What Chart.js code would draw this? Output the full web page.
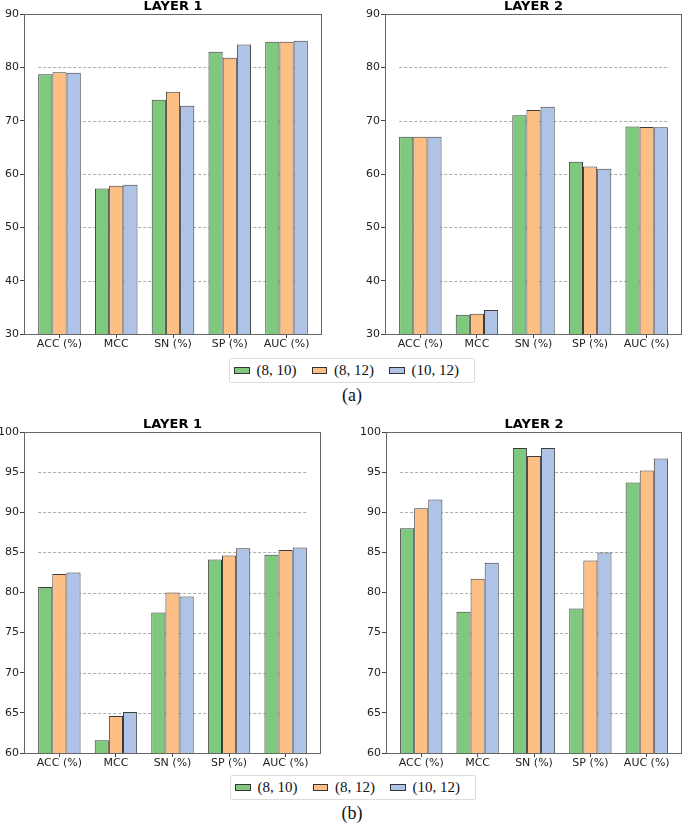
<!DOCTYPE html>
<html lang="en">
<head>
<meta charset="utf-8">
<title>Layer 1 / Layer 2 metrics</title>
<script src="https://cdn.jsdelivr.net/npm/chart.js@4.4.1/dist/chart.umd.min.js"></script>
<style>
  body { margin: 0; padding: 0; background: #fff; }
  #page { position: relative; width: 685px; height: 826px; overflow: hidden; }
  canvas { position: absolute; }
  .legend {
    position: absolute; display: flex; align-items: center; box-sizing: border-box;
    border: 1px solid #dcdcdc; border-radius: 2px; background: #fff;
    font-family: 'Liberation Serif', 'Times New Roman', serif; font-size: 15px; color: #111;
    padding-left: 4px; white-space: nowrap;
  }
  .legend .sw { display: inline-block; width: 21px; height: 7px; box-sizing: border-box; border: 1.5px solid #333; margin-right: 7px; }
  .legend .lb { margin-right: 15px; }
  .cap {
    position: absolute; width: 100px; text-align: center;
    font-family: 'Liberation Serif', 'Times New Roman', serif; font-size: 18px; color: #111;
  }
</style>
</head>
<body>
<div id="page">
  <canvas id="a1" width="340" height="352" style="left:0;top:0"></canvas>
  <canvas id="a2" width="345" height="352" style="left:340px;top:0"></canvas>
  <div class="legend" id="legA" style="left:229px;top:358px;width:246px;height:25px"></div>
  <div class="cap" style="left:302px;top:385px">(a)</div>

  <canvas id="b1" width="340" height="362" style="left:0;top:410px"></canvas>
  <canvas id="b2" width="345" height="362" style="left:340px;top:410px"></canvas>
  <div class="legend" id="legB" style="left:230px;top:775px;width:246px;height:25px"></div>
  <div class="cap" style="left:302px;top:803px">(b)</div>
</div>
<script>
  // categories and series
  const metrics = ['ACC (%)', 'MCC', 'SN (%)', 'SP (%)', 'AUC (%)'];
  const pairs = ['(8, 10)', '(8, 12)', '(10, 12)'];

  // (a) layer 1
  const a1_8_10  = [78.7, 57.3, 73.9, 82.9, 84.8];
  const a1_8_12  = [79.1, 57.8, 75.4, 81.8, 84.8];
  const a1_10_12 = [79.0, 58.0, 72.8, 84.3, 85.0];
  // (a) layer 2
  const a2_8_10  = [67.0, 33.6, 71.0, 62.3, 68.9];
  const a2_8_12  = [67.0, 33.8, 72.0, 61.4, 68.8];
  const a2_10_12 = [67.0, 34.5, 72.6, 61.0, 68.75];
  // (b) layer 1
  const b1_8_10  = [80.7, 61.6, 77.5, 84.1, 84.7];
  const b1_8_12  = [82.3, 64.6, 80.0, 84.6, 85.3];
  const b1_10_12 = [82.5, 65.1, 79.5, 85.5, 85.6];
  // (b) layer 2
  const b2_8_10  = [88.0, 77.6, 98.0, 78.0, 93.7];
  const b2_8_12  = [90.5, 81.7, 97.0, 84.0, 95.2];
  const b2_10_12 = [91.6, 83.7, 98.0, 85.0, 96.7];

  // y tick labels
  const ticksA = [30, 40, 50, 60, 70, 80, 90];
  const ticksB = [60, 65, 70, 75, 80, 85, 90, 95, 100];

  const fills = ['#7fc97f', '#fdbf86', '#afc3e6'];
  const edge = '#3c3c3c';

  Chart.defaults.font.family = "'DejaVu Sans', sans-serif";
  Chart.defaults.font.size = 11;
  Chart.defaults.color = '#222';

  function panel(id, title, series, yTicks, box) {
    const deco = {
      id: 'deco',
      beforeDatasetsDraw(chart) {
        const c = chart.ctx, y = chart.scales.y;
        const first = chart.getDatasetMeta(0).data[0];
        const lastMeta = chart.getDatasetMeta(series.length - 1).data;
        const last = lastMeta[lastMeta.length - 1];
        const x0 = first.x - first.width / 2, x1 = last.x + last.width / 2;
        c.save();
        c.strokeStyle = 'rgba(0,0,0,0.32)';
        c.lineWidth = 1;
        c.setLineDash([3, 2]);
        yTicks.slice(1, -1).forEach(v => {
          const py = Math.round(y.getPixelForValue(v)) + 0.5;
          c.beginPath(); c.moveTo(x0, py); c.lineTo(x1, py); c.stroke();
        });
        c.restore();
      },
      afterDatasetsDraw(chart) {
        const c = chart.ctx, a = chart.chartArea;
        c.save();
        c.strokeStyle = '#666';
        c.lineWidth = 1;
        const l = Math.round(a.left) + 0.5, t = Math.round(a.top) + 0.5;
        const r = Math.round(a.right) - 0.5, b = Math.round(a.bottom) + 0.5;
        c.strokeRect(l, t, r - l, b - t);
        c.fillStyle = '#000';
        c.font = "bold 13px 'DejaVu Sans', sans-serif";
        c.textAlign = 'center';
        c.textBaseline = 'alphabetic';
        c.fillText(title, (a.left + a.right) / 2, a.top - 4.5);
        c.restore();
      }
    };

    new Chart(document.getElementById(id), {
      type: 'bar',
      data: {
        datasets: series.map((vals, k) => ({
          label: pairs[k],
          data: vals.map((v, i) => ({ x: i, y: v })),
          backgroundColor: fills[k],
          borderColor: edge,
          borderWidth: 1,
          borderSkipped: false,
          categoryPercentage: 0.75,
          barPercentage: 1
        }))
      },
      options: {
        responsive: false,
        animation: false,
        layout: { padding: { top: box.top, right: box.right, left: 0, bottom: 0 } },
        plugins: { legend: { display: false }, tooltip: { enabled: false } },
        scales: {
          x: {
            type: 'linear',
            offset: false,
            min: -0.625,
            max: metrics.length - 1 + 0.625,
            afterBuildTicks: s => { s.ticks = metrics.map((m, i) => ({ value: i })); },
            afterFit: s => { s.height = box.xh; },
            ticks: { autoSkip: false, maxRotation: 0, padding: 0, callback: v => metrics[v], color: '#222' },
            grid: { offset: false, drawOnChartArea: false, tickLength: 4, color: '#444' },
            border: { display: false }
          },
          y: {
            min: yTicks[0],
            max: yTicks[yTicks.length - 1],
            afterBuildTicks: s => { s.ticks = yTicks.map(v => ({ value: v })); },
            afterFit: s => { s.width = box.yw; },
            ticks: { padding: 1, color: '#222' },
            grid: { drawOnChartArea: false, tickLength: 4, color: '#444' },
            border: { display: false }
          }
        }
      },
      plugins: [deco]
    });
  }

  panel('a1', 'LAYER 1', [a1_8_10, a1_8_12, a1_10_12], ticksA, { top: 14, right: 18, yw: 24, xh: 18 });
  panel('a2', 'LAYER 2', [a2_8_10, a2_8_12, a2_10_12], ticksA, { top: 14, right: 3, yw: 45, xh: 18 });
  panel('b1', 'LAYER 1', [b1_8_10, b1_8_12, b1_10_12], ticksB, { top: 22, right: 19, yw: 24, xh: 19 });
  panel('b2', 'LAYER 2', [b2_8_10, b2_8_12, b2_10_12], ticksB, { top: 22, right: 3, yw: 46, xh: 19 });

  // shared legends
  ['legA', 'legB'].forEach(id => {
    const el = document.getElementById(id);
    pairs.forEach((p, k) => {
      const sw = document.createElement('span');
      sw.className = 'sw';
      sw.style.background = fills[k];
      const lb = document.createElement('span');
      lb.className = 'lb';
      lb.textContent = p;
      el.appendChild(sw);
      el.appendChild(lb);
    });
  });
</script>
</body>
</html>
